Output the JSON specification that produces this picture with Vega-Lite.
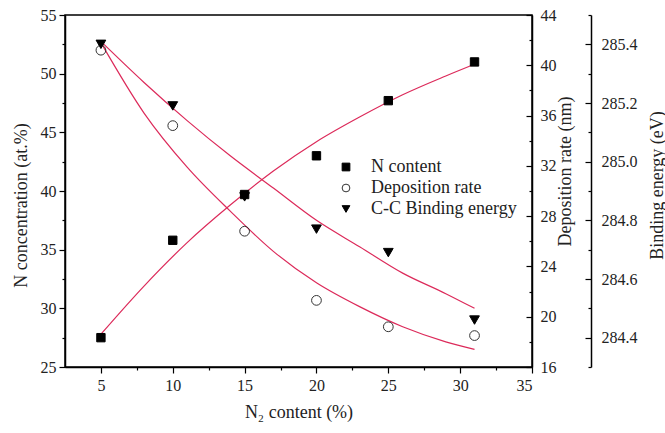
{
  "$schema": "https://vega.github.io/schema/vega-lite/v6.json",
  "width": 467,
  "height": 352,
  "autosize": {"type": "none"},
  "padding": {"left": 65, "top": 15, "right": 133, "bottom": 66},
  "background": "white",
  "config": {
    "view": {"stroke": "black", "strokeWidth": 1.5},
    "font": "Liberation Serif",
    "axis": {
      "grid": false,
      "domainColor": "black",
      "domainWidth": 1.5,
      "tickColor": "black",
      "tickWidth": 1.2,
      "labelFont": "Liberation Serif",
      "labelFontSize": 16,
      "labelColor": "#222",
      "titleFont": "Liberation Serif",
      "titleFontSize": 18,
      "titleFontWeight": "normal",
      "titleColor": "#222"
    },
    "legend": {
      "labelFont": "Liberation Serif",
      "labelFontSize": 18,
      "labelColor": "#222"
    }
  },
  "datasets": {
    "pts": [
      {"x": 5, "value": 27.5, "series": "N content"},
      {"x": 10, "value": 35.8, "series": "N content"},
      {"x": 15, "value": 39.7, "series": "N content"},
      {"x": 20, "value": 43.0, "series": "N content"},
      {"x": 25, "value": 47.7, "series": "N content"},
      {"x": 31, "value": 51.0, "series": "N content"},
      {"x": 5, "value": 41.2, "series": "Deposition rate"},
      {"x": 10, "value": 35.2, "series": "Deposition rate"},
      {"x": 15, "value": 26.8, "series": "Deposition rate"},
      {"x": 20, "value": 21.3, "series": "Deposition rate"},
      {"x": 25, "value": 19.2, "series": "Deposition rate"},
      {"x": 31, "value": 18.5, "series": "Deposition rate"},
      {"x": 5, "value": 285.40, "series": "C-C Binding energy"},
      {"x": 10, "value": 285.19, "series": "C-C Binding energy"},
      {"x": 15, "value": 284.88, "series": "C-C Binding energy"},
      {"x": 20, "value": 284.77, "series": "C-C Binding energy"},
      {"x": 25, "value": 284.69, "series": "C-C Binding energy"},
      {"x": 31, "value": 284.46, "series": "C-C Binding energy"}
    ],
    "fits": [
      {"x": 5, "value": 27.8, "series": "N content"},
      {"x": 8, "value": 31.9, "series": "N content"},
      {"x": 11, "value": 35.6, "series": "N content"},
      {"x": 14, "value": 38.8, "series": "N content"},
      {"x": 17, "value": 41.7, "series": "N content"},
      {"x": 20, "value": 44.2, "series": "N content"},
      {"x": 23, "value": 46.3, "series": "N content"},
      {"x": 26, "value": 48.2, "series": "N content"},
      {"x": 29, "value": 49.8, "series": "N content"},
      {"x": 31, "value": 50.8, "series": "N content"},
      {"x": 5, "value": 41.8, "series": "Deposition rate"},
      {"x": 8, "value": 36.2, "series": "Deposition rate"},
      {"x": 11, "value": 31.9, "series": "Deposition rate"},
      {"x": 14, "value": 28.4, "series": "Deposition rate"},
      {"x": 17, "value": 25.2, "series": "Deposition rate"},
      {"x": 20, "value": 22.7, "series": "Deposition rate"},
      {"x": 23, "value": 20.8, "series": "Deposition rate"},
      {"x": 26, "value": 19.2, "series": "Deposition rate"},
      {"x": 29, "value": 18.0, "series": "Deposition rate"},
      {"x": 31, "value": 17.4, "series": "Deposition rate"},
      {"x": 5, "value": 285.41, "series": "C-C Binding energy"},
      {"x": 8, "value": 285.27, "series": "C-C Binding energy"},
      {"x": 11, "value": 285.14, "series": "C-C Binding energy"},
      {"x": 14, "value": 285.02, "series": "C-C Binding energy"},
      {"x": 17, "value": 284.91, "series": "C-C Binding energy"},
      {"x": 20, "value": 284.80, "series": "C-C Binding energy"},
      {"x": 23, "value": 284.71, "series": "C-C Binding energy"},
      {"x": 26, "value": 284.62, "series": "C-C Binding energy"},
      {"x": 29, "value": 284.55, "series": "C-C Binding energy"},
      {"x": 31, "value": 284.50, "series": "C-C Binding energy"}
    ]
  },
  "encoding": {
    "x": {
      "field": "x",
      "type": "quantitative",
      "scale": {"domain": [2.5, 35], "nice": false, "zero": false},
      "axis": {
        "title": "N₂ content (%)",
        "values": [5, 7.5, 10, 12.5, 15, 17.5, 20, 22.5, 25, 27.5, 30, 32.5, 35],
        "labelExpr": "datum.value % 5 === 0 ? datum.label : ''",
        "tickSize": {"condition": {"test": "datum.value % 5 !== 0", "value": 3}, "value": 6},
        "labelPadding": 4,
        "titlePadding": 10
      }
    }
  },
  "layer": [
    {
      "encoding": {
        "y": {
          "field": "value",
          "type": "quantitative",
          "scale": {"domain": [25, 55], "nice": false, "zero": false},
          "axis": {
            "orient": "left",
            "title": "N concentration (at.%)",
            "titleY": 190,
            "values": [25, 27.5, 30, 32.5, 35, 37.5, 40, 42.5, 45, 47.5, 50, 52.5, 55],
            "labelExpr": "datum.value % 5 === 0 ? datum.label : ''",
            "tickSize": {"condition": {"test": "datum.value % 5 !== 0", "value": 3}, "value": 6},
            "labelPadding": 3,
            "titlePadding": 10
          }
        }
      },
      "layer": [
        {
          "data": {"name": "fits"},
          "transform": [{"filter": "datum.series === 'N content'"}],
          "mark": {"type": "line", "color": "#dc2a5a", "strokeWidth": 1.2, "interpolate": "monotone"}
        },
        {
          "data": {"name": "pts"},
          "transform": [{"filter": "datum.series === 'N content'"}],
          "mark": {"type": "point", "filled": true, "strokeWidth": 1, "size": 70, "opacity": 1},
          "encoding": {
            "shape": {"field": "series", "type": "nominal", "scale": {"domain": ["N content", "Deposition rate", "C-C Binding energy"], "range": ["square", "circle", "triangle-down"]}, "legend": {"title": null, "orient": "none", "legendX": 272, "legendY": 143, "symbolSize": 60, "symbolStrokeWidth": 1, "rowPadding": 3, "labelOffset": 16, "padding": 0}},
            "fill": {"field": "series", "type": "nominal", "scale": {"domain": ["N content", "Deposition rate", "C-C Binding energy"], "range": ["black", "transparent", "black"]}, "legend": {"title": null, "orient": "none", "legendX": 272, "legendY": 143, "symbolSize": 60, "symbolStrokeWidth": 1, "rowPadding": 3, "labelOffset": 16, "padding": 0}},
            "stroke": {"field": "series", "type": "nominal", "scale": {"domain": ["N content", "Deposition rate", "C-C Binding energy"], "range": ["black", "#333", "black"]}, "legend": {"title": null, "orient": "none", "legendX": 272, "legendY": 143, "symbolSize": 60, "symbolStrokeWidth": 1, "rowPadding": 3, "labelOffset": 16, "padding": 0}}
          }
        }
      ]
    },
    {
      "encoding": {
        "y": {
          "field": "value",
          "type": "quantitative",
          "scale": {"domain": [16, 44], "nice": false, "zero": false},
          "axis": {
            "orient": "right",
            "title": "Deposition rate (nm)",
            "titleAngle": 270,
            "titleBaseline": "middle",
            "titleAlign": "center",
            "titleX": 33,
            "titleY": 156,
            "values": [16, 18, 20, 22, 24, 26, 28, 30, 32, 34, 36, 38, 40, 42, 44],
            "labelExpr": "datum.value % 4 === 0 ? datum.label : ''",
            "labelAlign": "left",
            "tickSize": {"condition": {"test": "datum.value % 4 !== 0", "value": -3}, "value": -6},
            "labelPadding": 14
          }
        }
      },
      "layer": [
        {
          "data": {"name": "fits"},
          "transform": [{"filter": "datum.series === 'Deposition rate'"}],
          "mark": {"type": "line", "color": "#dc2a5a", "strokeWidth": 1.2, "interpolate": "monotone"}
        },
        {
          "data": {"name": "pts"},
          "transform": [{"filter": "datum.series === 'Deposition rate'"}],
          "mark": {"type": "point", "filled": true, "strokeWidth": 1, "size": 95, "opacity": 1},
          "encoding": {
            "shape": {"field": "series", "type": "nominal"},
            "fill": {"field": "series", "type": "nominal"},
            "stroke": {"field": "series", "type": "nominal"}
          }
        }
      ]
    },
    {
      "encoding": {
        "y": {
          "field": "value",
          "type": "quantitative",
          "scale": {"domain": [284.3, 285.5], "nice": false, "zero": false},
          "axis": {
            "orient": "right",
            "offset": 59,
            "title": "Binding energy (eV)",
            "titleAngle": 270,
            "titleBaseline": "middle",
            "titleAlign": "center",
            "titleX": 66,
            "titleY": 170,
            "values": [284.3, 284.4, 284.5, 284.6, 284.7, 284.8, 284.9, 285.0, 285.1, 285.2, 285.3, 285.4, 285.5],
            "format": ".1f",
            "labelExpr": "round(datum.value * 10) % 2 === 0 ? datum.label : ''",
            "labelAlign": "left",
            "tickSize": {"condition": {"test": "round(datum.value * 10) % 2 !== 0", "value": -3}, "value": -6},
            "labelPadding": 16
          }
        }
      },
      "layer": [
        {
          "data": {"name": "fits"},
          "transform": [{"filter": "datum.series === 'C-C Binding energy'"}],
          "mark": {"type": "line", "color": "#dc2a5a", "strokeWidth": 1.2, "interpolate": "monotone"}
        },
        {
          "data": {"name": "pts"},
          "transform": [{"filter": "datum.series === 'C-C Binding energy'"}],
          "mark": {"type": "point", "filled": true, "strokeWidth": 1, "size": 95, "opacity": 1},
          "encoding": {
            "shape": {"field": "series", "type": "nominal"},
            "fill": {"field": "series", "type": "nominal"},
            "stroke": {"field": "series", "type": "nominal"}
          }
        }
      ]
    }
  ],
  "resolve": {"scale": {"y": "independent"}}
}
